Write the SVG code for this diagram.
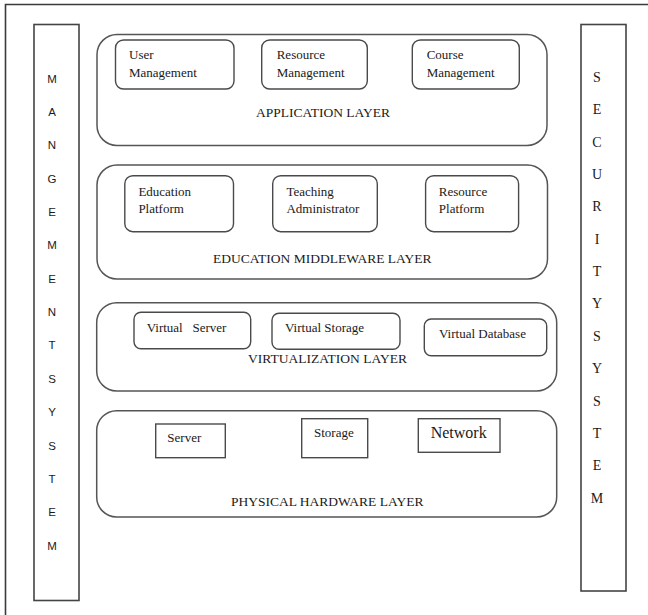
<svg xmlns="http://www.w3.org/2000/svg" width="648" height="615" viewBox="0 0 648 615">
<style>
.frame{fill:none;stroke:#3a3a3a;stroke-width:1.6}
.side{fill:#fff;stroke:#444;stroke-width:1.6}
.layer{fill:#fff;stroke:#555;stroke-width:1.5}
.box{fill:#fff;stroke:#4a4a4a;stroke-width:1.4}
.t{font-family:"Liberation Serif","Times New Roman",serif;font-size:13px;fill:#1a1a1a}
.lt{font-family:"Liberation Serif","Times New Roman",serif;font-size:13.5px;fill:#1a1a1a;text-anchor:middle}
.ls{font-family:"Liberation Sans",Arial,sans-serif;font-size:11.5px;fill:#1a1a1a;text-anchor:middle}
.rs{font-family:"Liberation Serif","Times New Roman",serif;font-size:14px;fill:#1a1a1a;text-anchor:middle}
</style>
<rect width="648" height="615" fill="#fff"/>
<path class="frame" d="M5.5 620 V4.5 H660"/>
<g id="management-system">
<rect class="side" x="34" y="24.5" width="45" height="576"/>
<text class="ls" x="52"><tspan x="52" y="82.5">M</tspan><tspan x="52" y="115.9">A</tspan><tspan x="52" y="149.2">N</tspan><tspan x="52" y="182.6">G</tspan><tspan x="52" y="215.9">E</tspan><tspan x="52" y="249.3">M</tspan><tspan x="52" y="282.7">E</tspan><tspan x="52" y="316">N</tspan><tspan x="52" y="349.4">T</tspan><tspan x="52" y="382.7">S</tspan><tspan x="52" y="416.1">Y</tspan><tspan x="52" y="449.5">S</tspan><tspan x="52" y="482.8">T</tspan><tspan x="52" y="516.2">E</tspan><tspan x="52" y="549.5">M</tspan></text>
</g>
<g id="security-system">
<rect class="side" x="581" y="24.5" width="45" height="566.5"/>
<text class="rs"><tspan x="597" y="81.7">S</tspan><tspan x="597" y="114.1">E</tspan><tspan x="597" y="146.5">C</tspan><tspan x="597" y="178.8">U</tspan><tspan x="597" y="211.2">R</tspan><tspan x="597" y="243.6">I</tspan><tspan x="597" y="276">T</tspan><tspan x="597" y="308.4">Y</tspan><tspan x="597" y="340.8">S</tspan><tspan x="597" y="373.2">Y</tspan><tspan x="597" y="405.5">S</tspan><tspan x="597" y="437.9">T</tspan><tspan x="597" y="470.3">E</tspan><tspan x="597" y="502.7">M</tspan></text>
</g>
<g id="application-layer">
<rect class="layer" x="97" y="34.5" width="450" height="111" rx="20"/>
<text class="lt" x="323" y="117.3">APPLICATION LAYER</text>
</g>
<g id="user-management">
<rect class="box" x="115.5" y="40" width="118.5" height="49" rx="8"/>
<text class="t"><tspan x="129" y="59.3">User</tspan><tspan x="129" y="76.7">Management</tspan></text>
</g>
<g id="resource-management">
<rect class="box" x="261.7" y="40" width="105.6" height="49" rx="8"/>
<text class="t"><tspan x="276.7" y="59.3">Resource</tspan><tspan x="276.7" y="76.7">Management</tspan></text>
</g>
<g id="course-management">
<rect class="box" x="412.3" y="40" width="107" height="49" rx="8"/>
<text class="t"><tspan x="426.7" y="59.3">Course</tspan><tspan x="426.7" y="76.7">Management</tspan></text>
</g>
<g id="education-middleware-layer">
<rect class="layer" x="97" y="165" width="450.5" height="114" rx="20"/>
<text class="lt" x="322.3" y="263.3">EDUCATION MIDDLEWARE LAYER</text>
</g>
<g id="education-platform">
<rect class="box" x="124.8" y="175.7" width="108.7" height="56" rx="8"/>
<text class="t"><tspan x="138.4" y="196">Education</tspan><tspan x="138.4" y="213.3">Platform</tspan></text>
</g>
<g id="teaching-administrator">
<rect class="box" x="272.7" y="175.7" width="104.6" height="56" rx="8"/>
<text class="t"><tspan x="286.4" y="196">Teaching</tspan><tspan x="286.4" y="213.3">Administrator</tspan></text>
</g>
<g id="resource-platform">
<rect class="box" x="425.6" y="175.7" width="93" height="56" rx="8"/>
<text class="t"><tspan x="438.8" y="196">Resource</tspan><tspan x="438.8" y="213.3">Platform</tspan></text>
</g>
<g id="virtualization-layer">
<rect class="layer" x="96.7" y="302.7" width="460" height="88.3" rx="20"/>
<text class="lt" x="327.5" y="363.3">VIRTUALIZATION LAYER</text>
</g>
<g id="virtual-server">
<rect class="box" x="134" y="312.3" width="116.7" height="36.4" rx="7"/>
<text class="t" x="146.7" y="331.7" xml:space="preserve">Virtual   Server</text>
</g>
<g id="virtual-storage">
<rect class="box" x="272" y="313.3" width="128" height="36" rx="7"/>
<text class="t" x="285" y="331.7">Virtual Storage</text>
</g>
<g id="virtual-database">
<rect class="box" x="424.3" y="319" width="122.4" height="36.7" rx="7"/>
<text class="t" x="439" y="337.7">Virtual Database</text>
</g>
<g id="physical-hardware-layer">
<rect class="layer" x="96.7" y="410.7" width="460" height="106.3" rx="20"/>
<text class="lt" x="327.2" y="506">PHYSICAL HARDWARE LAYER</text>
</g>
<g id="server">
<rect class="box" x="155.7" y="424" width="69.6" height="33.7"/>
<text class="t" x="167.3" y="442.3">Server</text>
</g>
<g id="storage">
<rect class="box" x="301.7" y="418.7" width="66" height="39"/>
<text class="t" x="314" y="436.7">Storage</text>
</g>
<g id="network">
<rect class="box" x="418.3" y="418.7" width="81.7" height="33.6"/>
<text class="t" x="430.7" y="437.7" style="font-size:16px">Network</text>
</g>
<g id="connectors"/>
</svg>
